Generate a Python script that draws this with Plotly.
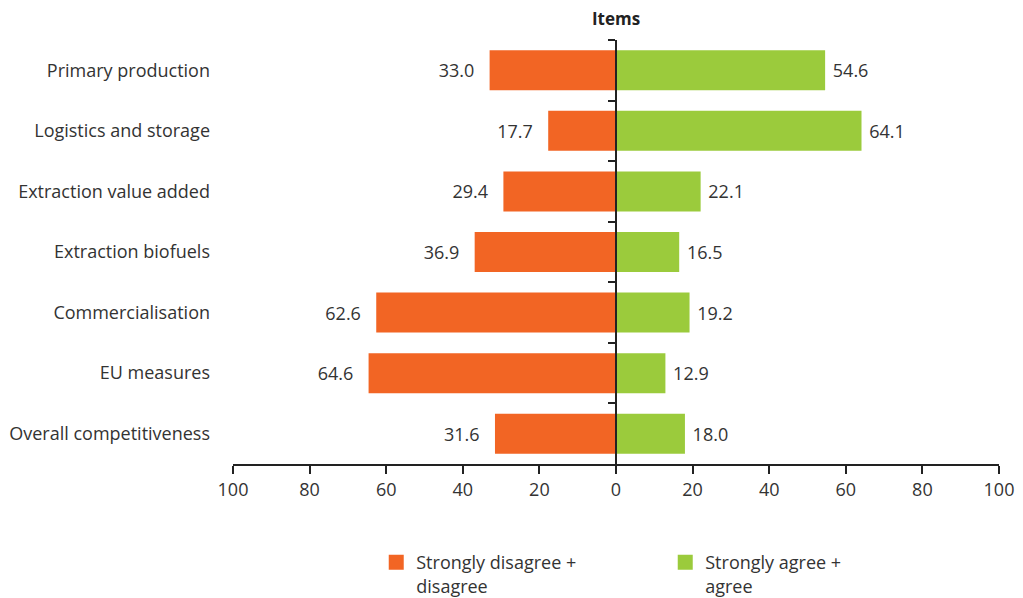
import plotly.graph_objects as go

categories = ["Primary production", "Logistics and storage", "Extraction value added",
              "Extraction biofuels", "Commercialisation", "EU measures", "Overall competitiveness"]
disagree = [33.0, 17.7, 29.4, 36.9, 62.6, 64.6, 31.6]
agree = [54.6, 64.1, 22.1, 16.5, 19.2, 12.9, 18.0]
tick_vals = [-100, -80, -60, -40, -20, 0, 20, 40, 60, 80, 100]
tick_text = ["100", "80", "60", "40", "20", "0", "20", "40", "60", "80", "100"]
series_names = ["Strongly disagree +<br>disagree", "Strongly agree +<br>agree"]

FONT = "Open Sans"
TXT = "#333333"
ORANGE = "#F26524"
GREEN = "#9BCB3C"
NB = "\u00a0"
THIN = "\u2009"
FS = 18

fig = go.Figure()
fig.add_trace(go.Bar(
    y=categories, x=[-v for v in disagree], orientation="h",
    name=series_names[0], marker=dict(color=ORANGE, line=dict(width=0)),
    text=[f"{v:.1f}{NB * 2}{THIN}" for v in disagree], textposition="outside",
    textfont=dict(color=TXT, size=FS, family=FONT), cliponaxis=False, showlegend=False,
))
fig.add_trace(go.Bar(
    y=categories, x=agree, orientation="h",
    name=series_names[1], marker=dict(color=GREEN, line=dict(width=0)),
    text=[f"{NB}{v:.1f}" for v in agree], textposition="outside",
    textfont=dict(color=TXT, size=FS, family=FONT), cliponaxis=False, showlegend=False,
))
# legend entries with larger square swatches
for nm, col in zip(series_names, [ORANGE, GREEN]):
    fig.add_trace(go.Scatter(
        x=[None], y=[None], mode="markers", name=nm,
        marker=dict(symbol="square", size=15, color=col), showlegend=True,
    ))
# invisible trace to drive the central axis with boundary ticks
fig.add_trace(go.Scatter(
    y=categories, x=[0] * len(categories), yaxis="y2", mode="markers",
    marker=dict(opacity=0), showlegend=False, hoverinfo="skip",
))

fig.update_layout(
    width=1015, height=590,
    margin=dict(l=225, r=24, t=32, b=134, autoexpand=False),
    paper_bgcolor="white", plot_bgcolor="white",
    font=dict(family=FONT, color=TXT, size=FS),
    barmode="relative", bargap=0.34,
    title=dict(text="<b>Items</b>", x=0.5, xanchor="center", xref="paper",
               y=0.982, yanchor="middle", font=dict(size=17, color="#222222", family=FONT)),
    xaxis=dict(range=[-100, 100], tickvals=tick_vals, ticktext=tick_text, automargin=False,
               showgrid=False, zeroline=False, showline=True, linecolor="#222222", linewidth=2,
               ticks="outside", ticklen=8, tickwidth=2, tickcolor="#222222",
               tickfont=dict(size=FS, color=TXT)),
    yaxis=dict(type="category", categoryorder="array", categoryarray=categories,
               autorange=False, range=[6.5, -0.5], automargin=False,
               showgrid=False, zeroline=False, showline=False, ticks="",
               ticklabelstandoff=22, tickfont=dict(size=FS, color=TXT)),
    yaxis2=dict(type="category", categoryorder="array", categoryarray=categories,
                autorange=False, range=[6.5, -0.5], overlaying="y", anchor="free",
                position=0.5, side="left", showgrid=False, zeroline=False, automargin=False,
                showline=True, linecolor="#222222", linewidth=2,
                ticks="outside", tickson="boundaries", ticklen=7, tickwidth=2,
                tickcolor="#222222", showticklabels=False),
    legend=dict(orientation="h", x=0.187, xanchor="left", xref="paper", y=-0.189, yanchor="top",
                entrywidth=244, font=dict(size=FS, color=TXT), traceorder="normal",
                itemsizing="trace", valign="top"),
    showlegend=True,
)

fig.write_html("out.html")
